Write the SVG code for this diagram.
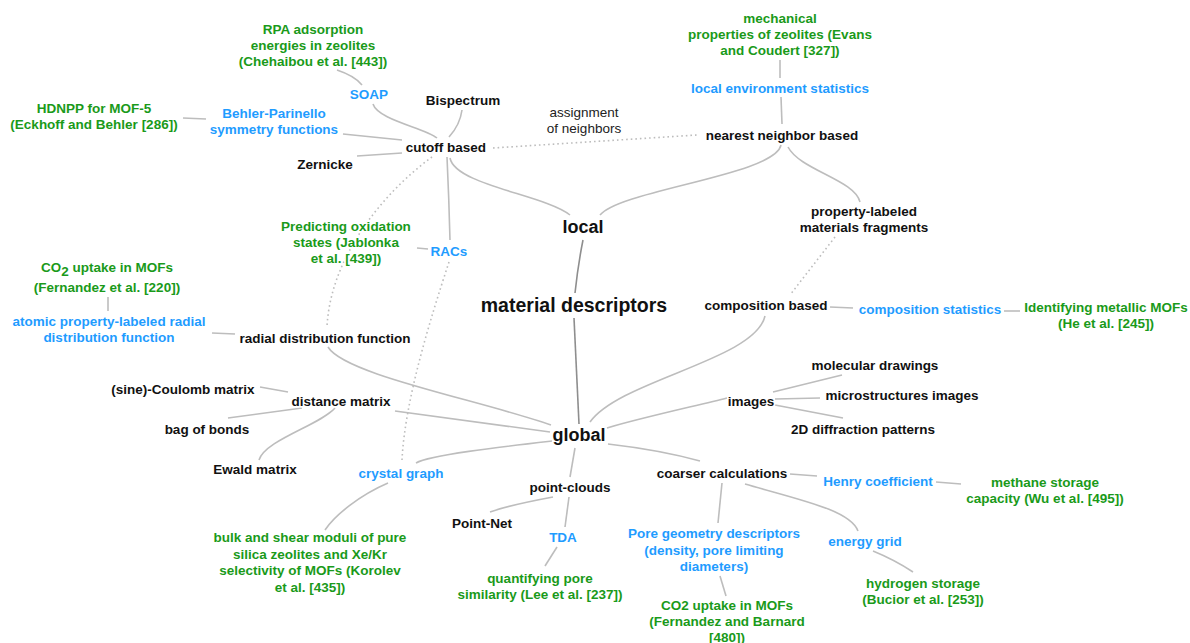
<svg xmlns="http://www.w3.org/2000/svg" width="1190" height="643" viewBox="0 0 1190 643">
<style>
text{font-family:"Liberation Sans",Arial,sans-serif;font-weight:bold;font-size:13.5px;text-anchor:middle;paint-order:stroke;stroke:#fff;stroke-width:3px;stroke-linejoin:round}
.n{fill:#111}
.b{fill:#1f9cff}
.g{fill:#1a9a1a}
.r{font-weight:normal;fill:#222}
.big{font-size:18px}
.title{font-size:19.5px}
.e{fill:none;stroke:#bdbdbd;stroke-width:1.6}
.d{fill:none;stroke:#bdbdbd;stroke-width:1.6;stroke-dasharray:1.6 3}
.s{fill:none;stroke:#8e8e8e;stroke-width:1.6}
</style>
<rect width="1190" height="643" fill="#fff"/>
<g id="connectors">
<path class="e" d="M337,70 Q355,76 362,85"/>
<path class="e" d="M373,104 C378,120 425,128 437,138"/>
<path class="e" d="M462,110 Q460,125 449,137"/>
<path class="e" d="M183,118 L206,119"/>
<path class="e" d="M343,134 L402,140"/>
<path class="e" d="M357,156 L402,153"/>
<path class="d" d="M493,148 L697,135"/>
<path class="e" d="M447,157 Q449,200 450,240"/>
<path class="e" d="M450,158 C455,185 545,195 570,215"/>
<path class="e" d="M781,145 C775,175 620,190 600,215"/>
<path class="e" d="M788,147 C800,170 855,180 860,202"/>
<path class="d" d="M835,237 L790,295"/>
<path class="s" d="M583,240 Q578,265 575,293"/>
<path class="s" d="M574,318 L579,424"/>
<path class="e" d="M782,124 L781,97"/>
<path class="e" d="M780,78 L780,60"/>
<path class="d" d="M432,157 C380,195 330,260 327,327"/>
<path class="e" d="M417,248 L428,249"/>
<path class="e" d="M108,297 L108,311"/>
<path class="e" d="M212,333 L235,334"/>
<path class="e" d="M328,347 C345,375 480,400 551,425"/>
<path class="d" d="M449,262 C430,320 405,400 402,460"/>
<path class="e" d="M395,411 L550,432"/>
<path class="e" d="M416,463 C430,455 500,447 552,441"/>
<path class="e" d="M765,316 C755,360 620,380 590,422"/>
<path class="e" d="M727,398 C700,405 640,418 607,428"/>
<path class="e" d="M608,444 Q660,450 700,461"/>
<path class="e" d="M575,448 L570,477"/>
<path class="e" d="M773,392 L842,375"/>
<path class="e" d="M775,399 L820,398"/>
<path class="e" d="M775,405 L843,418"/>
<path class="e" d="M260,387 L288,392"/>
<path class="e" d="M302,408 L228,418"/>
<path class="e" d="M335,408 C320,425 265,440 259,460"/>
<path class="e" d="M388,483 C360,495 335,515 325,530"/>
<path class="e" d="M553,497 Q510,505 490,512"/>
<path class="e" d="M569,497 L565,527"/>
<path class="e" d="M557,547 L545,566"/>
<path class="e" d="M790,474 L817,476"/>
<path class="e" d="M936,482 L961,484"/>
<path class="e" d="M722,483 L718,523"/>
<path class="e" d="M745,484 C800,500 850,510 858,531"/>
<path class="e" d="M720,576 L726,596"/>
<path class="e" d="M873,551 Q895,560 913,572"/>
<path class="e" d="M830,307 L853,308"/>
<path class="e" d="M1004,311 L1020,311"/>
</g>
<g id="rpa"><text class="g" x="313" y="34">RPA adsorption<tspan x="313" dy="16">energies in zeolites</tspan><tspan x="313" dy="16">(Chehaibou et al. [443])</tspan></text></g>
<g id="soap"><text class="b" x="369" y="99">SOAP</text></g>
<g id="bispectrum"><text class="n" x="463" y="105">Bispectrum</text></g>
<g id="hdnpp"><text class="g" x="94" y="113">HDNPP for MOF-5<tspan x="94" dy="16">(Eckhoff and Behler [286])</tspan></text></g>
<g id="behler"><text class="b" x="274" y="118">Behler-Parinello<tspan x="274" dy="16">symmetry functions</tspan></text></g>
<g id="cutoff"><text class="n" x="446" y="152">cutoff based</text></g>
<g id="zernicke"><text class="n" x="325" y="169">Zernicke</text></g>
<g id="assignment"><text class="r" x="584" y="117">assignment<tspan x="584" dy="16">of neighbors</tspan></text></g>
<g id="mechanical"><text class="g" x="780" y="23">mechanical<tspan x="780" dy="16">properties of zeolites (Evans</tspan><tspan x="780" dy="16">and Coudert [327])</tspan></text></g>
<g id="localenv"><text class="b" x="780" y="93">local environment statistics</text></g>
<g id="nearest"><text class="n" x="782" y="140">nearest neighbor based</text></g>
<g id="fragments"><text class="n" x="864" y="216">property-labeled<tspan x="864" dy="16">materials fragments</tspan></text></g>
<g id="local"><text class="n big" x="583" y="233">local</text></g>
<g id="oxidation"><text class="g" x="346" y="231">Predicting oxidation<tspan x="346" dy="16">states (Jablonka</tspan><tspan x="346" dy="16">et al. [439])</tspan></text></g>
<g id="racs"><text class="b" x="449" y="256">RACs</text></g>
<g id="co2a"><text class="g" x="107" y="272">CO<tspan dy="4">2</tspan><tspan dy="-4"> uptake in MOFs</tspan><tspan x="107" dy="20">(Fernandez et al. [220])</tspan></text></g>
<g id="atomic"><text class="b" x="109" y="326">atomic property-labeled radial<tspan x="109" dy="16">distribution function</tspan></text></g>
<g id="radial"><text class="n" x="325" y="343">radial distribution function</text></g>
<g id="md"><text class="n title" x="574" y="312">material descriptors</text></g>
<g id="composition"><text class="n" x="766" y="310">composition based</text></g>
<g id="compstats"><text class="b" x="930" y="314">composition statistics</text></g>
<g id="metallic"><text class="g" x="1106" y="312">Identifying metallic MOFs<tspan x="1106" dy="16">(He et al. [245])</tspan></text></g>
<g id="molecular"><text class="n" x="875" y="370">molecular drawings</text></g>
<g id="micro"><text class="n" x="902" y="400">microstructures images</text></g>
<g id="images"><text class="n" x="751" y="406">images</text></g>
<g id="diffraction"><text class="n" x="863" y="434">2D diffraction patterns</text></g>
<g id="coulomb"><text class="n" x="183" y="394">(sine)-Coulomb matrix</text></g>
<g id="distance"><text class="n" x="341" y="406">distance matrix</text></g>
<g id="bag"><text class="n" x="207" y="434">bag of bonds</text></g>
<g id="ewald"><text class="n" x="255" y="474">Ewald matrix</text></g>
<g id="global"><text class="n big" x="579" y="441">global</text></g>
<g id="crystal"><text class="b" x="401" y="478">crystal graph</text></g>
<g id="pointclouds"><text class="n" x="570" y="492">point-clouds</text></g>
<g id="coarser"><text class="n" x="722" y="478">coarser calculations</text></g>
<g id="henry"><text class="b" x="878" y="486">Henry coefficient</text></g>
<g id="methane"><text class="g" x="1045" y="487">methane storage<tspan x="1045" dy="16">capacity (Wu et al. [495])</tspan></text></g>
<g id="pointnet"><text class="n" x="482" y="528">Point-Net</text></g>
<g id="tda"><text class="b" x="563" y="542">TDA</text></g>
<g id="bulk"><text class="g" x="310" y="542">bulk and shear moduli of pure<tspan x="310" dy="16.5">silica zeolites and Xe/Kr</tspan><tspan x="310" dy="16.5">selectivity of MOFs (Korolev</tspan><tspan x="310" dy="16.5">et al. [435])</tspan></text></g>
<g id="pore"><text class="b" x="714" y="538">Pore geometry descriptors<tspan x="714" dy="16.5">(density, pore limiting</tspan><tspan x="714" dy="16.5">diameters)</tspan></text></g>
<g id="energy"><text class="b" x="865" y="546">energy grid</text></g>
<g id="quantifying"><text class="g" x="540" y="583">quantifying pore<tspan x="540" dy="16">similarity (Lee et al. [237])</tspan></text></g>
<g id="hydrogen"><text class="g" x="923" y="588">hydrogen storage<tspan x="923" dy="16">(Bucior et al. [253])</tspan></text></g>
<g id="co2b"><text class="g" x="727" y="610">CO2 uptake in MOFs<tspan x="727" dy="16">(Fernandez and Barnard</tspan><tspan x="727" dy="16">[480])</tspan></text></g>
</svg>
